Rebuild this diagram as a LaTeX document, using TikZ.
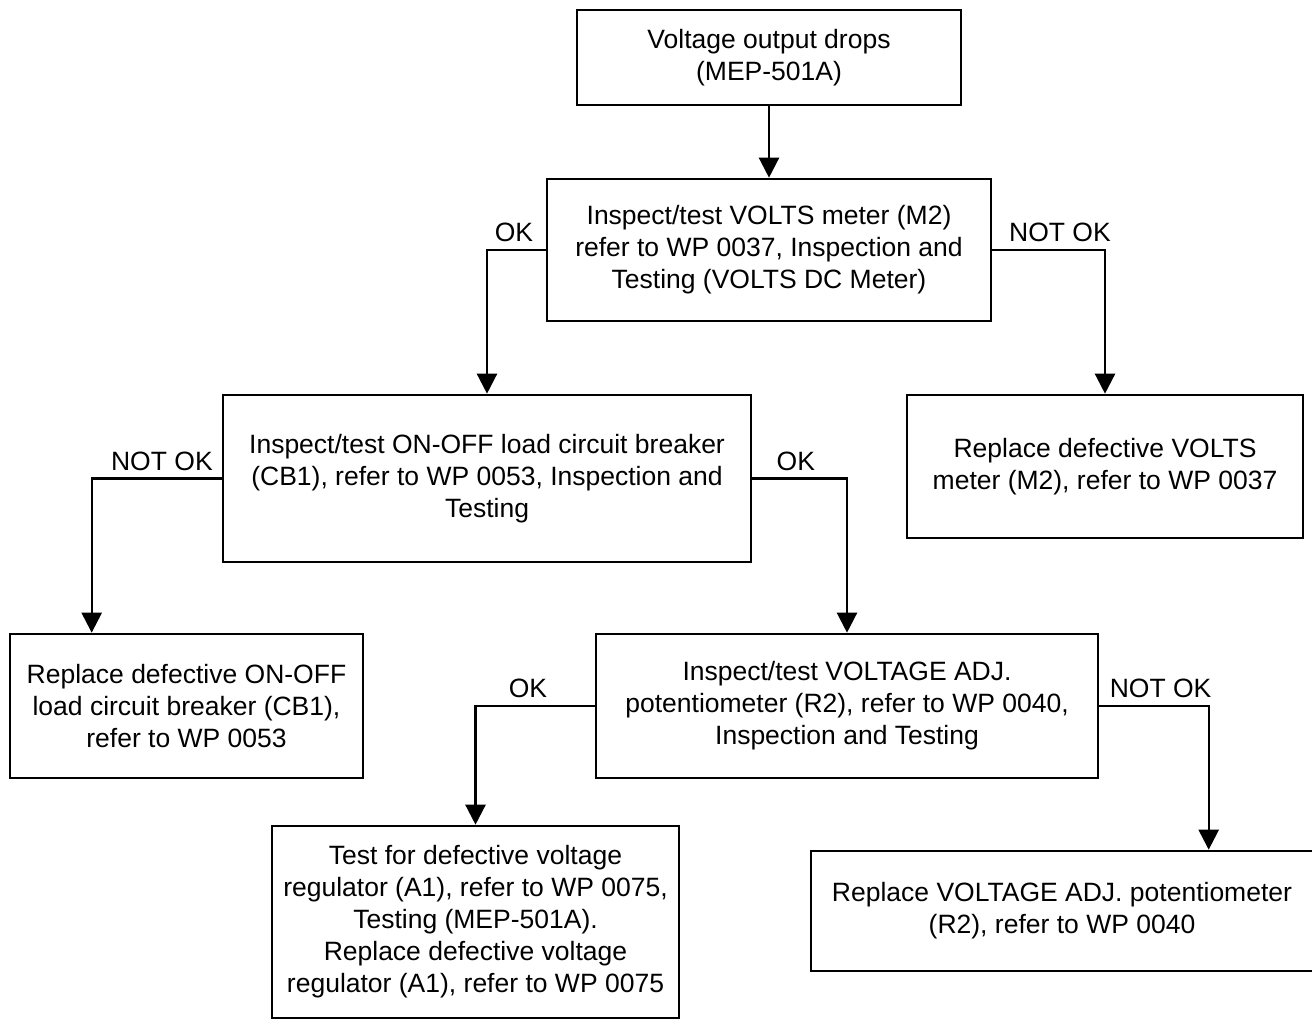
\documentclass[tikz,border=0pt]{standalone}
\usepackage{fontspec}
\setmainfont{Liberation Sans}
\usetikzlibrary{arrows.meta}

\begin{document}
\begin{tikzpicture}[x=0.5pt,y=-0.5pt,
  box/.style={draw,line width=1.3pt,align=center,inner sep=0pt,font=\fontsize{13.25}{16}\selectfont},
  arr/.style={line width=1.2pt,-{Triangle[width=10pt,length=10pt]}},
  lbl/.style={font=\fontsize{13.25}{16}\selectfont}]

\useasboundingbox (0,0) rectangle (1312,1020);

% first checks
\node[box,minimum width=192pt,minimum height=47.5pt] (drops) at (769,57.5) {Voltage output drops\\(MEP-501A)};
\node[box,minimum width=222pt,minimum height=71pt] (voltsmeter) at (769,250) {Inspect/test VOLTS meter (M2)\\refer to WP 0037, Inspection and\\Testing (VOLTS DC Meter)};
\node[box,minimum width=264pt,minimum height=83.5pt] (breaker) at (487,478.5) {Inspect/test ON-OFF load circuit breaker\\(CB1), refer to WP 0053, Inspection and\\Testing};
\node[box,minimum width=198pt,minimum height=71.5pt] (replmeter) at (1105,466.5) {Replace defective VOLTS\\meter (M2), refer to WP 0037};

% lower checks
\node[box,minimum width=176.5pt,minimum height=72pt] (replbreaker) at (186.5,706) {Replace defective ON-OFF\\load circuit breaker (CB1),\\refer to WP 0053};
\node[box,minimum width=251pt,minimum height=72pt] (pot) at (847,706) {Inspect/test VOLTAGE ADJ.\\potentiometer (R2), refer to WP 0040,\\Inspection and Testing};
\node[box,minimum width=203.5pt,minimum height=96pt] (regulator) at (475.5,922) {Test for defective voltage\\regulator (A1), refer to WP 0075,\\Testing (MEP-501A).\\Replace defective voltage\\regulator (A1), refer to WP 0075};
\node[box,minimum width=251pt,minimum height=60pt] (replpot) at (1062,911) {Replace VOLTAGE ADJ. potentiometer\\(R2), refer to WP 0040};

% connectors
\draw[arr] (drops) -- (voltsmeter);
\draw[arr] (voltsmeter.west) -| node[lbl,pos=0.27,above] {OK} (breaker.north);
\draw[arr] (voltsmeter.east) -| node[lbl,pos=0.3,above] {NOT OK} (replmeter.north);
\draw[arr] (breaker.west) -| node[lbl,pos=0.23,above] {NOT OK} ([xshift=41.5pt]replbreaker.north west);
\draw[arr] (breaker.east) -| node[lbl,pos=0.23,above] {OK} (pot.north);
\draw[arr] (pot.west) -| node[lbl,pos=0.28,above] {OK} (regulator.north);
\draw[arr] (pot.east) -| node[lbl,pos=0.28,above] {NOT OK} ([xshift=199.5pt]replpot.north west);

\end{tikzpicture}
\end{document}
